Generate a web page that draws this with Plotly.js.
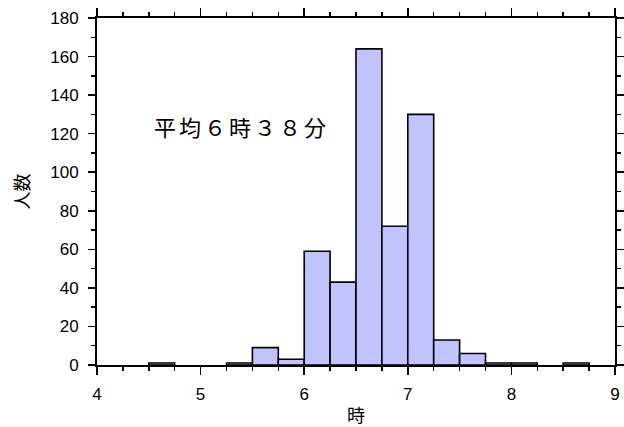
<!DOCTYPE html>
<html>
<head>
<meta charset="utf-8">
<script src="https://cdn.plot.ly/plotly-3.0.1.min.js"></script>
<style>html,body{margin:0;padding:0;background:#fff;}#chart{width:624px;height:427px;}</style>
</head>
<body>
<div id="chart"></div>
<script>
// Histogram bins (start of each 0.25-hour bin) and counts
const binStarts = [4.5, 5.25, 5.5, 5.75, 6.0, 6.25, 6.5, 6.75, 7.0, 7.25, 7.5, 7.75, 8.0, 8.5];
const counts    = [1,   1,    9,   3,    59,  43,   164, 72,   130, 13,   6,   1,    1,   1];
const binWidth = 0.25;
const xTickVals = [4, 5, 6, 7, 8, 9];
const yTickVals = [0, 20, 40, 60, 80, 100, 120, 140, 160, 180];
const annotationText = '平均６時３８分';
const xTitle = '時';
const yTitle = '人数';

const trace = {
  type: 'bar',
  x: binStarts,
  y: counts,
  width: binStarts.map(() => binWidth),
  offset: 0,
  marker: {color: 'rgb(194,194,252)', line: {color: '#000', width: 1.6}},
  hoverinfo: 'skip'
};

const cjk = '"Noto Sans CJK JP", "Noto Sans", sans-serif';
const layout = {
  width: 624, height: 427,
  margin: {l: 97, r: 9, t: 18, b: 62},
  paper_bgcolor: '#fff', plot_bgcolor: '#fff',
  showlegend: false,
  bargap: 0,
  xaxis: {
    range: [4, 9], tickvals: xTickVals, ticktext: xTickVals.map(String),
    ticks: 'outside', ticklen: 8, tickwidth: 1.5, tickcolor: '#000',
    minor: {dtick: 0.25, tick0: 4, ticks: 'outside', ticklen: 4, tickwidth: 1.5, tickcolor: '#000', showgrid: false},
    showline: true, linecolor: '#000', linewidth: 2, mirror: 'ticks',
    showgrid: false, zeroline: false,
    ticklabelstandoff: 5,
    tickfont: {family: '"Liberation Sans", Arial, sans-serif', size: 17, color: '#000'},
    title: {text: xTitle, font: {family: cjk, size: 18, color: '#000'}, standoff: 6}
  },
  yaxis: {
    range: [0, 180], tickvals: yTickVals, ticktext: yTickVals.map(String),
    ticks: 'outside', ticklen: 7, tickwidth: 1.5, tickcolor: '#000',
    minor: {dtick: 10, tick0: 0, ticks: 'outside', ticklen: 4, tickwidth: 1.5, tickcolor: '#000', showgrid: false},
    showline: true, linecolor: '#000', linewidth: 2, mirror: 'ticks',
    showgrid: false, zeroline: false,
    ticklabelstandoff: 6,
    tickfont: {family: '"Liberation Sans", Arial, sans-serif', size: 17, color: '#000'},
    title: {text: yTitle, font: {family: cjk, size: 18, color: '#000'}, standoff: 16}
  },
  annotations: [{
    x: 4.53, y: 124, xref: 'x', yref: 'y', xanchor: 'left', yanchor: 'middle',
    text: '<span style="letter-spacing:3px">' + annotationText + '</span>', showarrow: false,
    font: {family: cjk, size: 22, color: '#000'}
  }]
};

Plotly.newPlot('chart', [trace], layout, {displayModeBar: false, staticPlot: true});
</script>
</body>
</html>
